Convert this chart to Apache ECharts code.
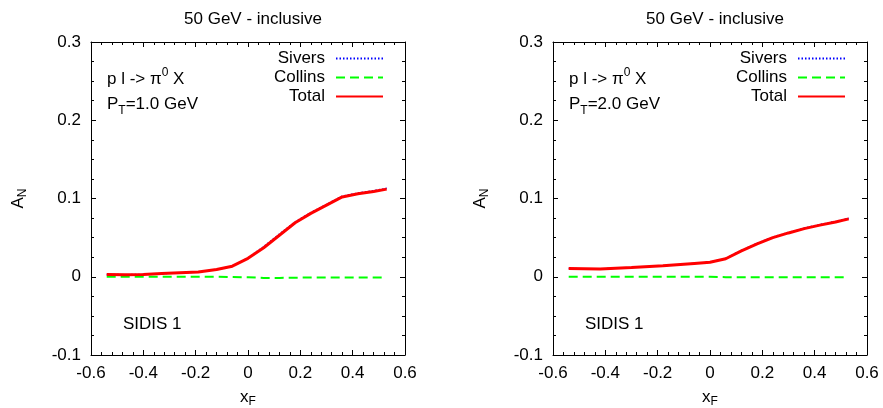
<!DOCTYPE html>
<html>
<head>
<meta charset="utf-8">
<script src="https://cdn.jsdelivr.net/npm/echarts@6/dist/echarts.min.js"></script>
<style>html,body{margin:0;padding:0;background:#fff}#c{width:883px;height:408px}</style>
</head>
<body>
<div id="c"></div>
<script>
// ---- data ----
const panelTitles = ['50 GeV - inclusive', '50 GeV - inclusive'];
const ptLabels = ['1.0', '2.0'];
const xTicks = [-0.6, -0.4, -0.2, 0, 0.2, 0.4, 0.6];
const yTicks = [-0.1, 0, 0.1, 0.2, 0.3];

// Left panel (P_T = 1.0 GeV)
const xLeft = [-0.54, -0.47, -0.40, -0.33, -0.26, -0.19, -0.12, -0.06, 0.00, 0.06, 0.12, 0.18, 0.24, 0.30, 0.36, 0.42, 0.48, 0.53];
const totalLeft = [0.003, 0.0026, 0.003, 0.004, 0.005, 0.006, 0.0092, 0.0135, 0.0235, 0.037, 0.053, 0.069, 0.081, 0.0915, 0.102, 0.106, 0.109, 0.112];
const siversLeft = [0.003, 0.0026, 0.003, 0.004, 0.005, 0.006, 0.0092, 0.0135, 0.024, 0.0385, 0.0545, 0.070, 0.082, 0.0925, 0.103, 0.107, 0.110, 0.113];
const collinsLeft = [0.0, 0.0, 0.0, 0.0, 0.0, 0.0, 0.0, -0.0003, -0.0006, -0.0015, -0.0015, -0.0012, -0.001, -0.001, -0.001, -0.001, -0.001, -0.001];

// Right panel (P_T = 2.0 GeV)
const xRight = [-0.54, -0.42, -0.30, -0.18, -0.06, 0.00, 0.06, 0.12, 0.18, 0.24, 0.30, 0.36, 0.42, 0.48, 0.53];
const totalRight = [0.0105, 0.0100, 0.0118, 0.0140, 0.0170, 0.0185, 0.0230, 0.0330, 0.0420, 0.0500, 0.0560, 0.0615, 0.0660, 0.0700, 0.0740];
const siversRight = [0.0105, 0.0100, 0.0118, 0.0140, 0.0170, 0.0186, 0.0235, 0.0337, 0.0427, 0.0507, 0.0567, 0.0622, 0.0667, 0.0707, 0.0747];
const collinsRight = [0.0, 0.0, 0.0, 0.0, 0.0, -0.0001, -0.0005, -0.0007, -0.0007, -0.0007, -0.0007, -0.0007, -0.0007, -0.0007, -0.0007];

const FONT = 'Liberation Sans, Arial, sans-serif';
const FS = 17;

function pairs(xs, ys) { return xs.map((x, i) => [x, ys[i]]); }

const grids = [
  {left: 91, top: 42, width: 314, height: 313, outerBoundsMode: 'none', containLabel: false},
  {left: 553, top: 42, width: 314, height: 313, outerBoundsMode: 'none', containLabel: false}
];

const xAxes = [], yAxes = [];
grids.forEach((g, gi) => {
  const base = {
    type: 'value', gridIndex: gi, min: -0.6, max: 0.6, interval: 0.2,
    axisLine: {show: true, onZero: false, lineStyle: {color: '#000', width: 1}},
    axisTick: {show: true, inside: true, length: 5, lineStyle: {color: '#000'}},
    minorTick: {show: true, splitNumber: 5, length: 3, lineStyle: {color: '#000'}},
    splitLine: {show: false}
  };
  xAxes.push(Object.assign({}, base, {
    position: 'bottom',
    axisLabel: {color: '#000', fontSize: FS, fontFamily: FONT, margin: 10},
    name: '{m|x}{s|F}', nameLocation: 'middle', nameGap: 31,
    nameTextStyle: {color: '#000', fontFamily: FONT, rich: {
      m: {fontSize: FS, fontFamily: FONT, color: '#000', lineHeight: 22, verticalAlign: 'middle'},
      s: {fontSize: 12, fontFamily: FONT, color: '#000', lineHeight: 22, verticalAlign: 'bottom'}
    }}
  }));
  xAxes.push(Object.assign({}, base, {position: 'top', axisLabel: {show: false}}));
  const ybase = {
    type: 'value', gridIndex: gi, min: -0.1, max: 0.3, interval: 0.1,
    axisLine: {show: true, onZero: false, lineStyle: {color: '#000', width: 1}},
    axisTick: {show: true, inside: true, length: 5, lineStyle: {color: '#000'}},
    minorTick: {show: true, splitNumber: 4, length: 3, lineStyle: {color: '#000'}},
    splitLine: {show: false}
  };
  yAxes.push(Object.assign({}, ybase, {
    position: 'left',
    axisLabel: {color: '#000', fontSize: FS, fontFamily: FONT, margin: 10},
    name: '{m|A}{s|N}', nameLocation: 'middle', nameGap: 62, nameRotate: 90,
    nameTextStyle: {color: '#000', fontFamily: FONT, rich: {
      m: {fontSize: FS, fontFamily: FONT, color: '#000', lineHeight: 22, verticalAlign: 'middle'},
      s: {fontSize: 12, fontFamily: FONT, color: '#000', lineHeight: 22, verticalAlign: 'bottom'}
    }}
  }));
  yAxes.push(Object.assign({}, ybase, {position: 'right', axisLabel: {show: false}}));
});

const panels = [
  {xs: xLeft, sivers: siversLeft, collins: collinsLeft, total: totalLeft},
  {xs: xRight, sivers: siversRight, collins: collinsRight, total: totalRight}
];

const series = [];
panels.forEach((p, gi) => {
  series.push({name: 'Sivers', type: 'line', xAxisIndex: gi * 2, yAxisIndex: gi * 2, symbol: 'none', silent: true,
    data: pairs(p.xs, p.sivers), lineStyle: {color: '#0000ff', width: 1.5, type: [1.5, 2]}, itemStyle: {color: '#0000ff'}});
  series.push({name: 'Collins', type: 'line', xAxisIndex: gi * 2, yAxisIndex: gi * 2, symbol: 'none', silent: true,
    data: pairs(p.xs, p.collins), lineStyle: {color: '#00ff00', width: 2, type: [9, 5]}, itemStyle: {color: '#00ff00'}});
  series.push({name: 'Total', type: 'line', xAxisIndex: gi * 2, yAxisIndex: gi * 2, symbol: 'none', silent: true,
    data: pairs(p.xs, p.total), lineStyle: {color: '#ff0000', width: 3}, itemStyle: {color: '#ff0000'}});
});

const legendBase = {
  orient: 'vertical', align: 'right', top: 50, padding: 0, itemWidth: 47, itemHeight: 14, itemGap: 2,
  selectedMode: false,
  itemStyle: {color: 'rgba(0,0,0,0)', borderWidth: 0, opacity: 0},
  textStyle: {color: '#000', fontSize: FS, fontFamily: FONT, lineHeight: 17, padding: [0, 6, 0, 0]},
  data: ['Sivers', 'Collins', 'Total']
};

const graphics = [];
[0, 1].forEach(gi => {
  const gx = grids[gi].left;
  graphics.push({type: 'text', left: gx + 16, top: 67, silent: true, style: {
    text: '{m|p l -> π}{u|0}{m| X}', font: FS + 'px ' + FONT, fill: '#000',
    rich: {m: {fontSize: FS, fontFamily: FONT, fill: '#000', lineHeight: 24, verticalAlign: 'middle'},
           u: {fontSize: 12, fontFamily: FONT, fill: '#000', lineHeight: 24, verticalAlign: 'top'}}
  }});
  graphics.push({type: 'text', left: gx + 16, top: 96, silent: true, style: {
    text: '{m|P}{d|T}{m|=' + ptLabels[gi] + ' GeV}', font: FS + 'px ' + FONT, fill: '#000',
    rich: {m: {fontSize: FS, fontFamily: FONT, fill: '#000', lineHeight: 24, verticalAlign: 'middle'},
           d: {fontSize: 12, fontFamily: FONT, fill: '#000', lineHeight: 24, verticalAlign: 'bottom'}}
  }});
  graphics.push({type: 'text', left: gx + 32, top: 316, silent: true, style: {
    text: 'SIDIS 1', font: FS + 'px ' + FONT, fill: '#000'
  }});
});

const chart = echarts.init(document.getElementById('c'), null, {renderer: 'canvas'});
chart.setOption({
  backgroundColor: '#fff',
  animation: false,
  title: [
    {text: panelTitles[0], left: 248, top: 6, textAlign: 'center', textStyle: {fontSize: FS, fontWeight: 'normal', color: '#000', fontFamily: FONT}},
    {text: panelTitles[1], left: 710, top: 6, textAlign: 'center', textStyle: {fontSize: FS, fontWeight: 'normal', color: '#000', fontFamily: FONT}}
  ],
  grid: grids,
  xAxis: xAxes,
  yAxis: yAxes,
  legend: [
    Object.assign({}, legendBase, {right: 883 - 384}),
    Object.assign({}, legendBase, {right: 883 - 846})
  ],
  graphic: graphics,
  series: series
});
</script>
</body>
</html>
